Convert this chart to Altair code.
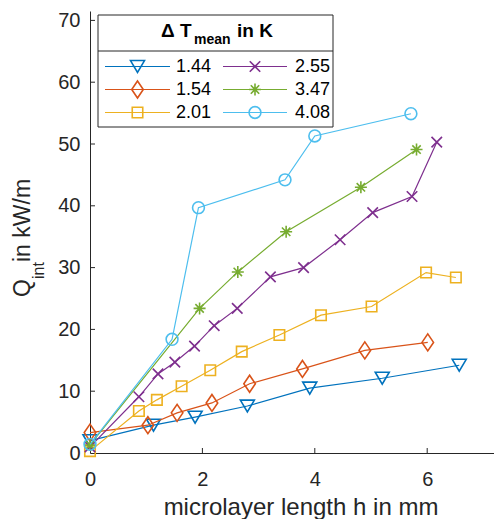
import altair as alt
import pandas as pd

# ---------------- data ----------------
series = ["1.44", "1.54", "2.01", "2.55", "3.47", "4.08"]
colors = ["#0072BD", "#D95319", "#EDB120", "#7E2F8E", "#77AC30", "#4DBEEE"]

x_144 = [0, 1.13, 1.87, 2.80, 3.91, 5.20, 6.57]
y_144 = [2.0, 4.5, 5.8, 7.6, 10.5, 12.1, 14.2]
x_154 = [0, 1.03, 1.55, 2.17, 2.84, 3.78, 4.89, 6.01]
y_154 = [3.3, 4.5, 6.5, 8.1, 11.2, 13.6, 16.6, 17.9]
x_201 = [0, 0.87, 1.19, 1.63, 2.14, 2.70, 3.37, 4.11, 5.01, 5.98, 6.51]
y_201 = [0.3, 6.8, 8.6, 10.8, 13.4, 16.4, 19.1, 22.3, 23.7, 29.2, 28.4]
x_255 = [0, 0.87, 1.21, 1.51, 1.86, 2.21, 2.62, 3.21, 3.80, 4.45, 5.03, 5.73, 6.17]
y_255 = [1.0, 9.1, 12.8, 14.7, 17.3, 20.6, 23.4, 28.5, 30.0, 34.5, 38.9, 41.5, 50.3]
x_347 = [0, 1.95, 2.63, 3.49, 4.82, 5.81]
y_347 = [1.3, 23.4, 29.3, 35.8, 43.0, 49.1]
x_408 = [0, 1.46, 1.93, 3.47, 4.00, 5.71]
y_408 = [1.4, 18.4, 39.7, 44.2, 51.3, 54.9]

xs_all = [x_144, x_154, x_201, x_255, x_347, x_408]
ys_all = [y_144, y_154, y_201, y_255, y_347, y_408]

x_ticks = [0, 2, 4, 6]
y_ticks = [0, 10, 20, 30, 40, 50, 60, 70]

# ---------------- styling / layout ----------------
FONT = "Liberation Sans"
AX = "#262626"
X0, Y0 = 90, 11          # page position of the plot-area corner
W, H = 404, 442
XMAX = W / 56.2
YMAX = H / 6.18


def lx(a):
    return a - X0


def ly(a):
    return a - Y0


shapes = [
    "M-1,-0.85L1,-0.85L0,0.85Z",                      # triangle down
    "M0,-1L0.68,0L0,1L-0.68,0Z",                      # diamond
    "square",
    "M-1,-1L1,1M-1,1L1,-1",                           # x
    "M-1,0L1,0M0,-1L0,1M-0.7,-0.7L0.7,0.7M-0.7,0.7L0.7,-0.7",  # asterisk
    "circle",
]
sizes = [196, 289, 110, 110, 144, 140]
leg_sizes = [196, 289, 110, 110, 144, 140]

xscale = alt.Scale(domain=[0, XMAX], nice=False, zero=False)
yscale = alt.Scale(domain=[0, YMAX], nice=False, zero=False)
xaxis = alt.Axis(values=x_ticks, ticks=False, tickSize=0, grid=False, title=None,
                 labelFont=FONT, labelFontSize=20, labelColor=AX, labelPadding=16,
                 domainColor=AX, domainWidth=1, labelFlush=False)
yaxis = alt.Axis(values=y_ticks, ticks=False, tickSize=0, grid=False, title=None,
                 labelFont=FONT, labelFontSize=20, labelColor=AX, labelPadding=10,
                 domainColor=AX, domainWidth=1)
X = alt.X("x:Q", scale=xscale, axis=xaxis)
Y = alt.Y("y:Q", scale=yscale, axis=yaxis)

layers = []

# inward tick marks
layers.append(
    alt.Chart(pd.DataFrame({"y": y_ticks[1:]})).mark_rule(color=AX, strokeWidth=1)
    .encode(y=Y, x=alt.value(0), x2=alt.value(5))
)
layers.append(
    alt.Chart(pd.DataFrame({"x": x_ticks[1:]})).mark_rule(color=AX, strokeWidth=1)
    .encode(x=X, y=alt.value(H), y2=alt.value(H - 5))
)

# data series
for i, name in enumerate(series):
    df = pd.DataFrame({"x": xs_all[i], "y": ys_all[i], "i": list(range(len(xs_all[i])))})
    base = alt.Chart(df)
    layers.append(base.mark_line(color=colors[i], strokeWidth=1.2).encode(x=X, y=Y, order="i:Q"))
    layers.append(
        base.mark_point(shape=shapes[i], size=sizes[i], filled=False, color=colors[i],
                        strokeWidth=1.6, opacity=1).encode(x=X, y=Y)
    )

one = alt.Data(values=[{"k": 0}])

# legend box
layers.append(
    alt.Chart(one).mark_rect(fill="white", stroke=AX, strokeWidth=1).encode(
        x=alt.value(lx(98)), x2=alt.value(lx(333)), y=alt.value(ly(15)), y2=alt.value(ly(127)))
)
layers.append(
    alt.Chart(one).mark_rule(color=AX, strokeWidth=1).encode(
        x=alt.value(lx(98)), x2=alt.value(lx(333)), y=alt.value(ly(51)))
)
# legend title
layers.append(alt.Chart(one).mark_text(text="\u0394 T", font=FONT, fontSize=19, fontWeight="bold",
                                       align="left", baseline="alphabetic", color="black")
              .encode(x=alt.value(lx(161)), y=alt.value(ly(37))))
layers.append(alt.Chart(one).mark_text(text="mean", font=FONT, fontSize=14, fontWeight="bold",
                                       align="left", baseline="alphabetic", color="black")
              .encode(x=alt.value(lx(194)), y=alt.value(ly(44))))
layers.append(alt.Chart(one).mark_text(text="in K", font=FONT, fontSize=19, fontWeight="bold",
                                       align="left", baseline="alphabetic", color="black")
              .encode(x=alt.value(lx(237)), y=alt.value(ly(37))))

# legend entries
row_y = [66.5, 89.5, 112.5]
col_line = [(105, 170), (223, 287)]
col_label = [176, 295]
for i, name in enumerate(series):
    r, c = i % 3, i // 3
    yy = ly(row_y[r])
    x1, x2 = col_line[c]
    layers.append(alt.Chart(one).mark_rule(color=colors[i], strokeWidth=1.2).encode(
        x=alt.value(lx(x1)), x2=alt.value(lx(x2)), y=alt.value(yy)))
    layers.append(alt.Chart(one).mark_point(shape=shapes[i], size=leg_sizes[i], filled=False,
                                            color=colors[i], strokeWidth=1.6, opacity=1).encode(
        x=alt.value(lx((x1 + x2) / 2)), y=alt.value(yy)))
    layers.append(alt.Chart(one).mark_text(text=name, font=FONT, fontSize=18, align="left",
                                           baseline="middle", color="black").encode(
        x=alt.value(lx(col_label[c])), y=alt.value(yy)))

# axis titles
layers.append(alt.Chart(one).mark_text(text="microlayer length h in mm", font=FONT, fontSize=24,
                                       align="center", baseline="alphabetic", color=AX)
              .encode(x=alt.value(lx(301)), y=alt.value(ly(515))))
layers.append(alt.Chart(one).mark_text(text="Q", font=FONT, fontSize=23, angle=270,
                                       align="left", baseline="alphabetic", color=AX)
              .encode(x=alt.value(lx(30)), y=alt.value(ly(297))))
layers.append(alt.Chart(one).mark_text(text="int", font=FONT, fontSize=16, angle=270,
                                       align="left", baseline="alphabetic", color=AX)
              .encode(x=alt.value(lx(44)), y=alt.value(ly(279))))
layers.append(alt.Chart(one).mark_text(text=" in kW/m", font=FONT, fontSize=23, angle=270,
                                       align="left", baseline="alphabetic", color=AX)
              .encode(x=alt.value(lx(30)), y=alt.value(ly(262))))

chart = alt.layer(*layers).properties(
    width=W, height=H,
    autosize=alt.AutoSizeParams(type="none"),
    padding={"left": X0 - 8, "top": Y0 - 8, "right": 0, "bottom": 66},
).configure_view(stroke=None)

chart.save("out.html", embed_options={"renderer": "svg", "actions": False})
